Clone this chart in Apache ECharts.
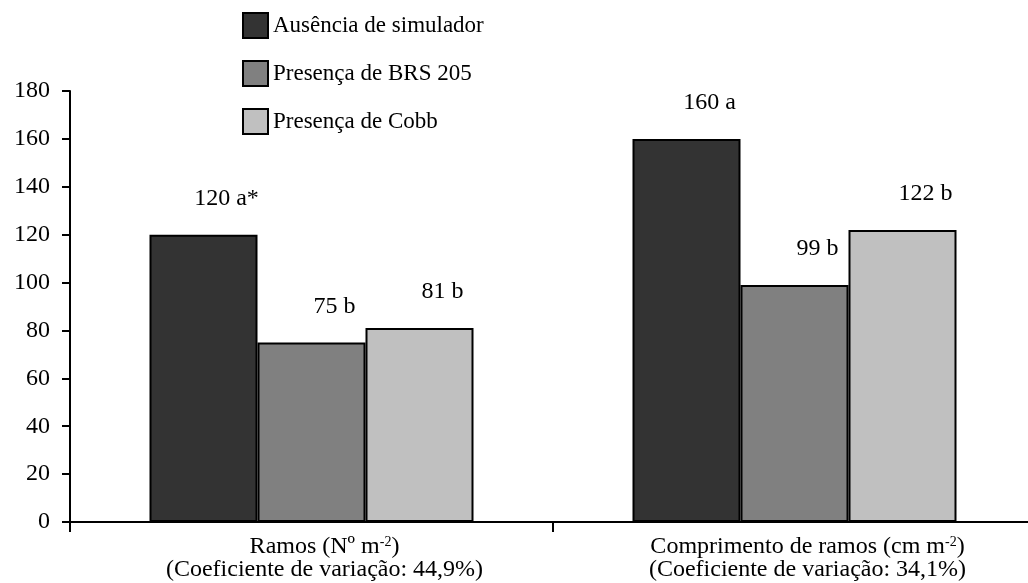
<!DOCTYPE html>
<html>
<head>
<meta charset="utf-8">
<script src="https://cdn.jsdelivr.net/npm/echarts@6/dist/echarts.min.js"></script>
<style>
  html, body { margin: 0; padding: 0; background: #fff; }
  #chart { width: 1028px; height: 583px; }
</style>
</head>
<body>
<div id="chart"></div>
<script>
const categories = ['Ramos (Nº m', 'Comprimento de ramos (cm m'];
const cvLabels = ['(Coeficiente de variação: 44,9%)', '(Coeficiente de variação: 34,1%)'];
const seriesNames = ['Ausência de simulador', 'Presença de BRS 205', 'Presença de Cobb'];
const ausencia = [120, 160];
const brs205 = [75, 99];
const cobb = [81, 122];
const letters = [['a*', 'a'], ['b', 'b'], ['b', 'b']];
const yTicks = [0, 20, 40, 60, 80, 100, 120, 140, 160, 180];

const font = "'Liberation Serif', 'Times New Roman', serif";
const colors = ['#333333', '#808080', '#c0c0c0'];
const values = [ausencia, brs205, cobb];

const chart = echarts.init(document.getElementById('chart'));

const option = {
  animation: false,
  backgroundColor: '#fff',
  textStyle: { fontFamily: font, color: '#000' },
  // the x axis runs past the right edge of the picture
  grid: { left: 70, top: 91, bottom: 61, width: 966, outerBoundsMode: 'none' },
  legend: {
    orient: 'vertical',
    left: 237,
    top: 7,
    icon: 'rect',
    itemWidth: 25,
    itemHeight: 25,
    itemGap: 21,
    textStyle: { fontFamily: font, fontSize: 23, color: '#000' },
    data: seriesNames
  },
  xAxis: {
    type: 'category',
    data: categories,
    axisLine: { lineStyle: { color: '#000', width: 2 } },
    axisTick: { show: true, length: 10, lineStyle: { color: '#000', width: 2 } },
    axisLabel: {
      margin: 13,
      padding: [0, 0, 0, 26],
      formatter: (v, i) => '{t|' + v + '}{s|-2}{t|)}\n{t|' + cvLabels[i] + '}',
      rich: {
        t: { fontFamily: font, fontSize: 24, color: '#000', lineHeight: 23 },
        s: { fontFamily: font, fontSize: 14, color: '#000', verticalAlign: 'top', lineHeight: 23 }
      }
    }
  },
  yAxis: {
    type: 'value',
    min: 0,
    max: yTicks[yTicks.length - 1],
    interval: yTicks[1] - yTicks[0],
    splitLine: { show: false },
    axisLine: { show: true, lineStyle: { color: '#000', width: 2 } },
    axisTick: { show: true, length: 8, lineStyle: { color: '#000', width: 2 } },
    axisLabel: { margin: 20, fontFamily: font, fontSize: 24, color: '#000' }
  },
  series: seriesNames.map((name, s) => ({
    name: name,
    type: 'bar',
    barWidth: 108,
    barGap: '0%',
    data: values[s],
    itemStyle: { color: colors[s], borderColor: '#000', borderWidth: 2 },
    label: {
      show: true,
      position: 'top',
      distance: 24,
      offset: [23, 0],
      fontFamily: font,
      fontSize: 24,
      color: '#000',
      formatter: (p) => p.value + ' ' + letters[s][p.dataIndex]
    }
  }))
};

chart.setOption(option);
</script>
</body>
</html>
